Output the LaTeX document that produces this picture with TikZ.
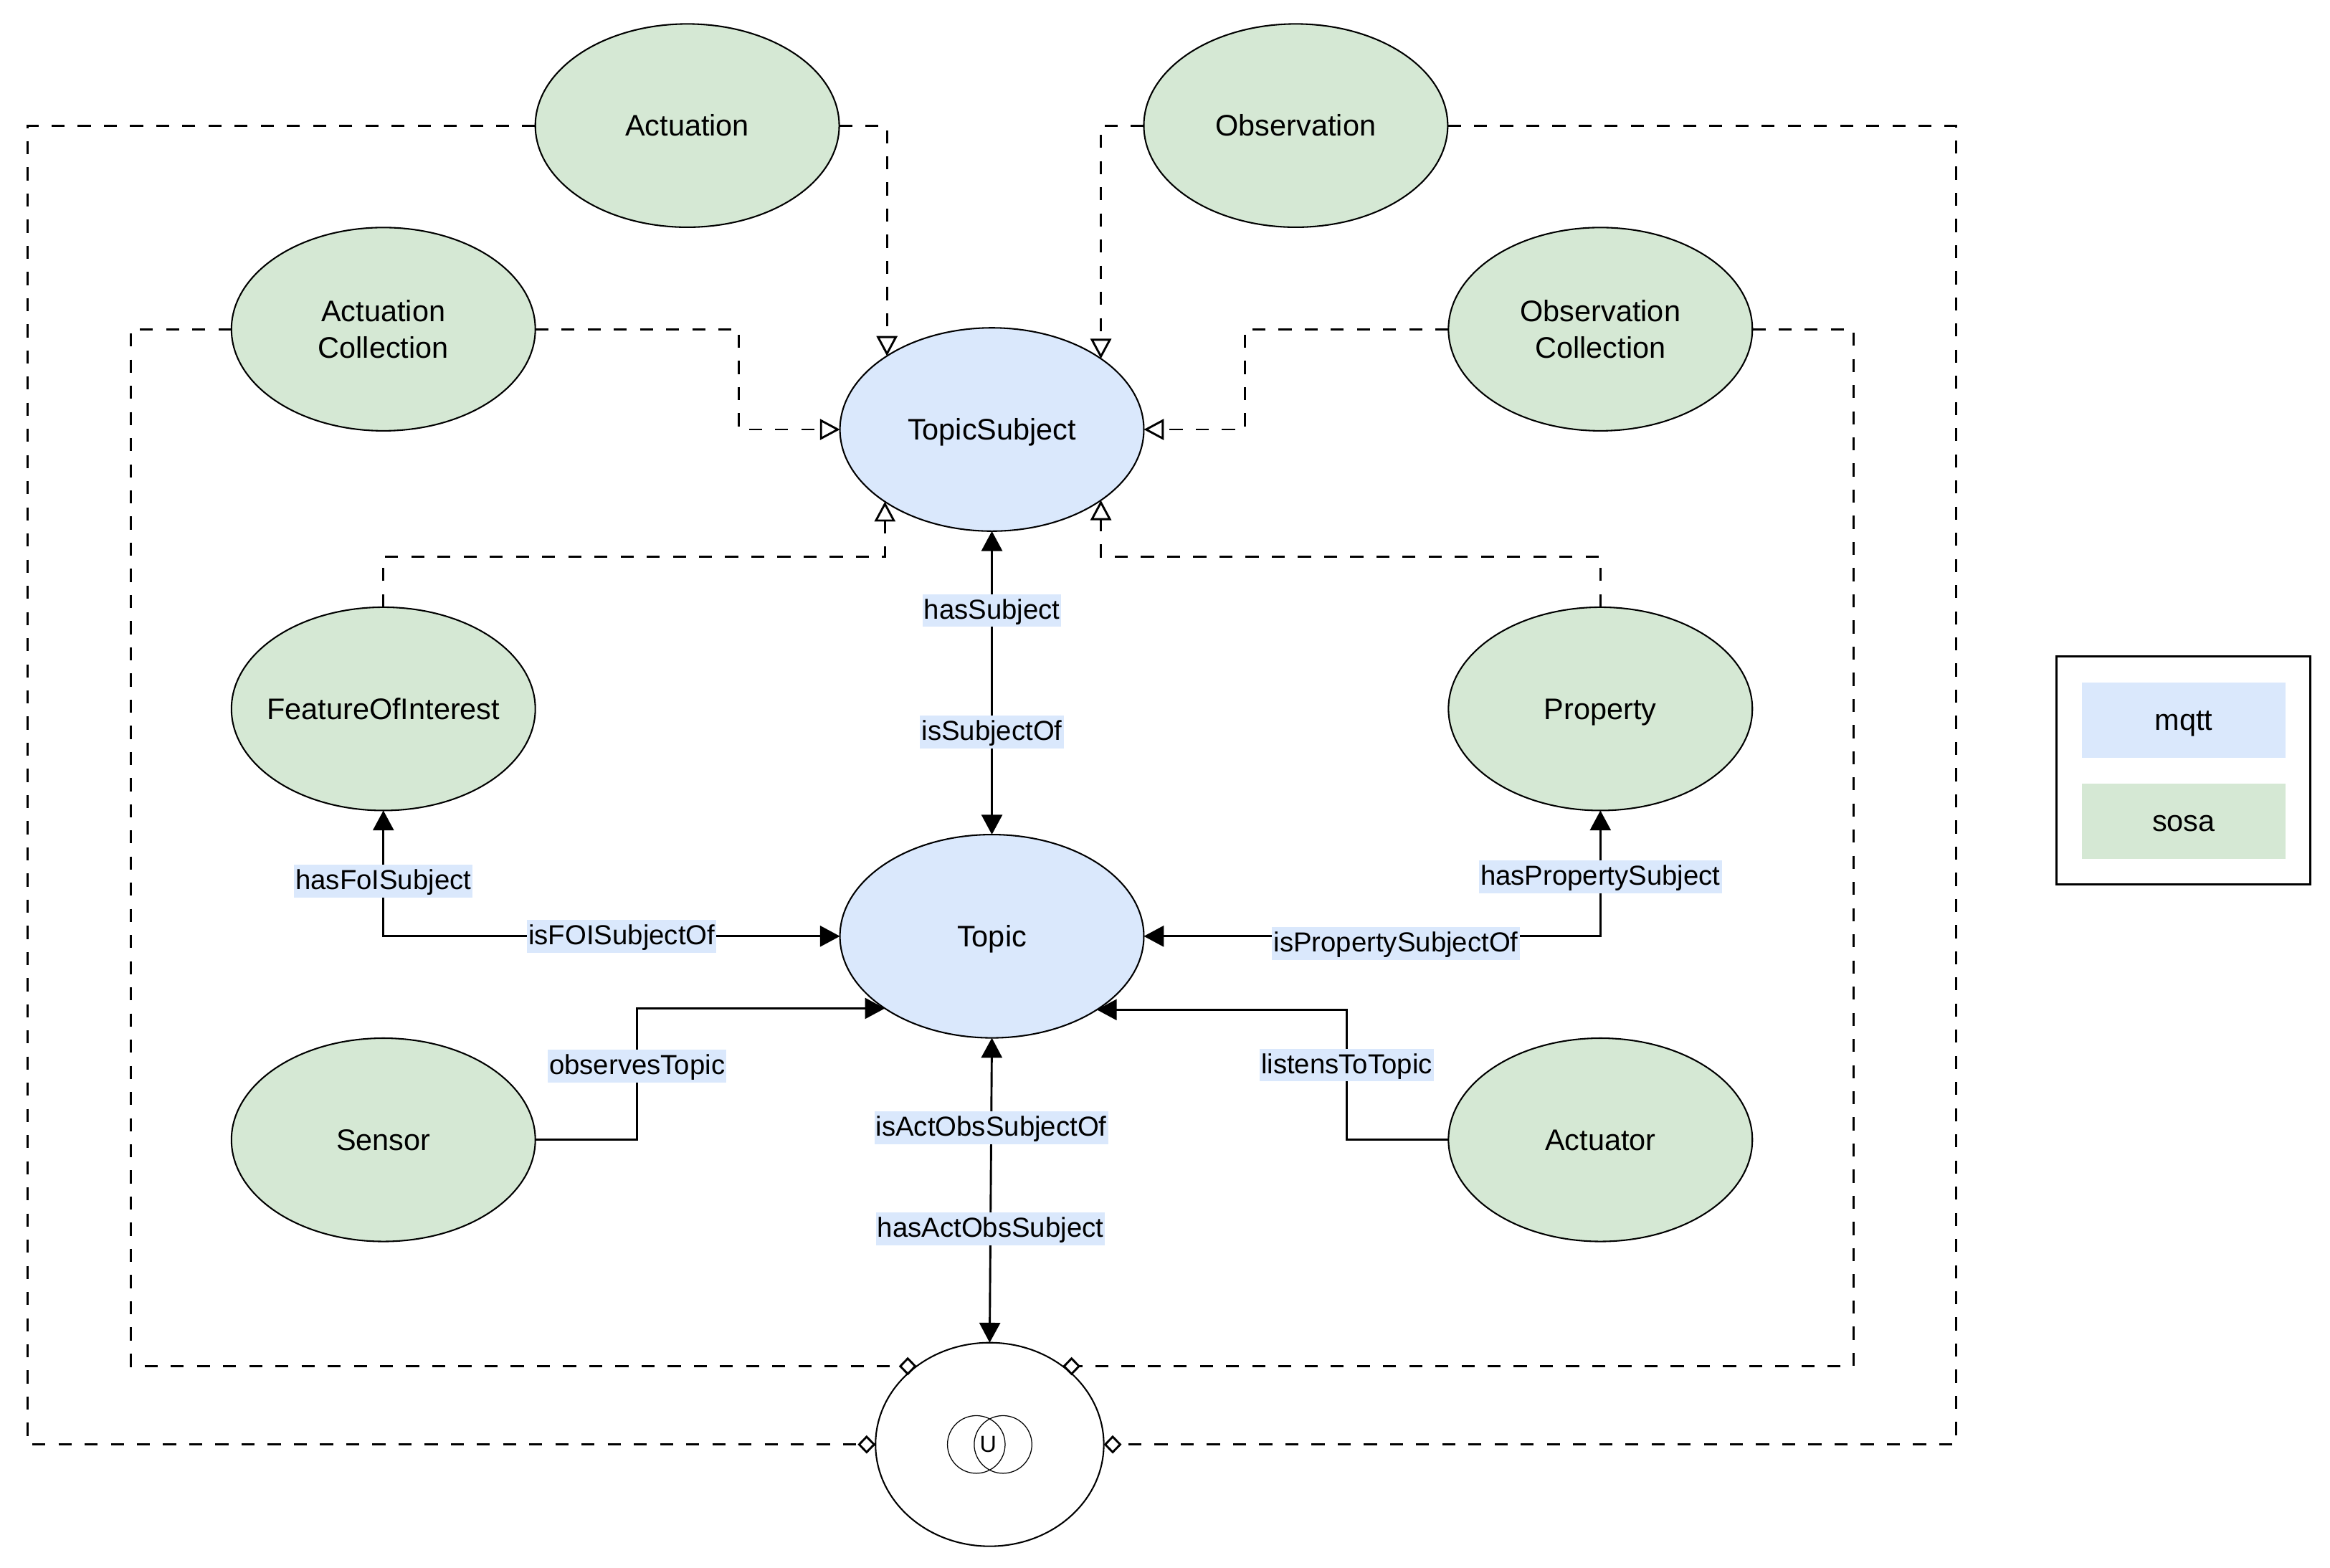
\documentclass[tikz,border=0pt]{standalone}
\usepackage{fontspec}
\setmainfont{Liberation Sans}
\usetikzlibrary{arrows.meta,shapes.geometric}

\definecolor{mqttblue}{HTML}{DAE8FC}
\definecolor{sosagreen}{HTML}{D5E8D4}

\tikzset{every picture/.style={line width=0.7pt}}
\tikzset{
  >={Triangle[length=6.7pt,width=7pt]},
  concept/.style={ellipse, draw, line width=0.5pt, minimum width=102.25pt, minimum height=68.4pt,
    inner sep=0pt, outer sep=0pt, text height=9.05pt, text depth=2.12pt,
    font=\fontsize{10}{12.2}\selectfont},
  twoline/.style={align=center, text height=, text depth=},
  mqtt/.style={concept, fill=mqttblue},
  sosa/.style={concept, fill=sosagreen},
  union/.style={ellipse, draw, line width=0.5pt, fill=white, minimum width=76.8pt, minimum height=68.5pt,
    inner sep=0pt, outer sep=0pt},
  lbl/.style={fill=mqttblue, inner xsep=0.5pt, inner ysep=0.5pt, text height=7.8pt, text depth=2.2pt,
    font=\fontsize{9.25}{11}\selectfont},
  subclass/.style={dash pattern=on 4.4pt off 4.4pt, -{Triangle[open,length=6.7pt,width=7pt]}},
  partof/.style={dash pattern=on 4.4pt off 4.4pt, -{Diamond[open,length=6pt,width=6.2pt]}},
  key/.style={minimum width=68.5pt, minimum height=25.25pt, inner sep=0pt, text height=9.05pt,
    text depth=2.12pt, font=\fontsize{10}{12}\selectfont},
}

\begin{document}
\begin{tikzpicture}[x=0.5pt,y=0.5pt,yscale=-1,xscale=1]
%set diagram left start at 0, and has height of 1055
\fill[white] (0,0) rectangle (1568,1055);
\path[use as bounding box] (0,0) rectangle (1568,1055);

%Shape: Ellipse [sosa]
\node[sosa] (act) at (462.5,84.5) {Actuation};
\node[sosa] (obs) at (872,84.5) {Observation};
\node[sosa,twoline] (acol) at (258,221.5) {Actuation\\Collection};
\node[sosa,twoline] (ocol) at (1077,221.5) {Observation\\Collection};
\node[sosa,inner xsep=-8pt] (foi) at (258,477) {FeatureOfInterest};
\node[sosa] (prop) at (1077,477) {Property};
\node[sosa] (sen) at (258,767) {Sensor};
\node[sosa] (actr) at (1077,767) {Actuator};
%Shape: Ellipse [mqtt]
\node[mqtt] (ts) at (667.5,289) {TopicSubject};
\node[mqtt] (top) at (667.5,630) {Topic};
%Shape: Ellipse [union]
\node[union] (u) at (666,972) {};
\draw[line width=0.3pt] (657,972) circle [radius=19.4];
\draw[line width=0.3pt] (675,972) circle [radius=19.4];
\node[font=\fontsize{7.8}{9}\selectfont, inner sep=0pt] (usym) at (665,972) {U};

%Straight Lines [subclass]
\draw[subclass] (act.east) -| (ts.145.6);
\draw[subclass] (obs.west) -| (ts.33);
\draw[subclass] (acol.east) -- ++(137,0) |- (ts.west);
\draw[subclass] (ocol.west) -- ++(-137,0) |- (ts.east);
\draw[subclass] (foi.north) -- ++(0,-34) -| (ts.214.4);
\draw[subclass] (prop.north) -- ++(0,-34) -| (ts.327);

%Straight Lines [partof]
\draw[partof] (act.west) -- ++(-341.5,0) |- (u.west);
\draw[partof] (obs.east) -- ++(342,0) |- (u.east);
\draw[partof] (acol.west) -- ++(-67.5,0) |- (u.133);
\draw[partof] (ocol.east) -- ++(68,0) |- (u.47);

%Straight Lines [relations]
\draw[<->] (ts.south) -- (top.north)
  node[lbl,pos=0.262] {hasSubject}
  node[lbl,pos=0.662] {isSubjectOf};
\draw[<->] (top.west) -| (foi.south)
  node[lbl,pos=0.239] {isFOISubjectOf}
  node[lbl,pos=0.719] {hasFoISubject};
\draw[<->] (top.east) -| (prop.south)
  node[lbl,pos=0.276,yshift=-2.5pt] {isPropertySubjectOf}
  node[lbl,pos=0.736] {hasPropertySubject};
\draw[->] (sen.east) -- ++(68.5,0) |- node[lbl,pos=0.28] {observesTopic} (top.214.4);
\draw[->] (actr.west) -- ++(-68.5,0) |- node[lbl,pos=0.287] {listensToTopic} (top.325.6);
\draw[<->] (top.south) -- (u.north)
  node[lbl,pos=0.295] {isActObsSubjectOf}
  node[lbl,pos=0.627] {hasActObsSubject};

%Shape: Rectangle [legend]
\draw (1384,441.5) rectangle (1554.5,595);
\node[key, fill=mqttblue] (kmqtt) at (1469.5,484.5) {mqtt};
\node[key, fill=sosagreen] (ksosa) at (1469.5,552.5) {sosa};

\end{tikzpicture}
\end{document}
